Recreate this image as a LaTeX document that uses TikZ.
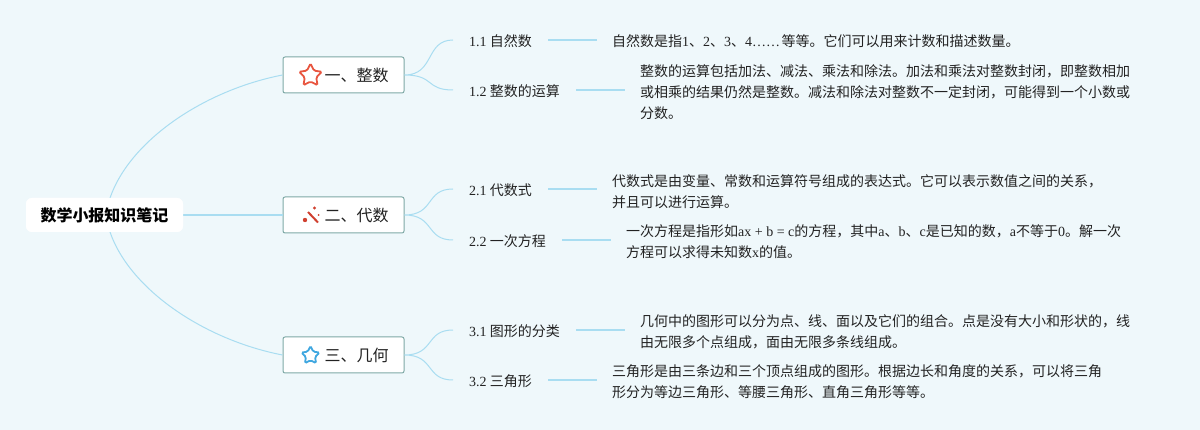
\documentclass[tikz,border=0pt]{standalone}
\usepackage{fontspec}
\setmainfont{Noto Sans CJK SC}
\newfontfamily\lat{Liberation Serif}
\usetikzlibrary{shapes.geometric}
\definecolor{paper}{HTML}{EFF8FB}
\definecolor{link}{HTML}{A9DDF1}
\definecolor{boxline}{HTML}{7FA9A6}
\definecolor{ink}{HTML}{222222}
\definecolor{starred}{HTML}{E8553F}
\definecolor{starblue}{HTML}{3FA7E0}
\definecolor{wandred}{HTML}{D0402F}
\tikzset{
  root/.style={fill=white,rounded corners=6pt,minimum width=157pt,minimum height=34pt,inner sep=0pt,font=\fontsize{16}{20}\selectfont\bfseries,text=black},
  branch/.style={draw=boxline,fill=white,line width=1pt,rounded corners=2pt,minimum width=121pt,minimum height=36pt,inner sep=0pt,font=\fontsize{16}{20}\selectfont,text=ink},
  topic/.style={anchor=west,inner xsep=16pt,inner ysep=2pt,text height=13.2pt,text depth=1pt,font=\fontsize{14}{18}\selectfont,text=ink},
  detail/.style={anchor=west,align=left,inner xsep=15pt,inner ysep=0pt,font=\fontsize{14}{21}\selectfont,text=ink},
  wire/.style={draw=link,line width=1pt},
  stub/.style={draw=link,line width=1.4pt},
  staricon/.style={star,star points=5,star point ratio=2.0,minimum size=#1,inner sep=0pt,line width=1.8pt,rounded corners=1.5pt}
}
\begin{document}
\begin{tikzpicture}[x=1pt,y=-1pt]
\useasboundingbox[fill=paper] (0,0) rectangle (1200,430);
\coordinate (Rt) at (110,198);
\coordinate (Rb) at (110,232);
% links from the root go first
\node[root] (R) at (104.5,215) {数学小报知识笔记};
\node[branch] (B1) at (343.5,75) {\hspace{26pt}一、整数};
\node[branch] (B2) at (343.5,215) {\hspace{26pt}二、代数};
\node[branch] (B3) at (343.5,355) {\hspace{26pt}三、几何};
\path[wire]
  (Rt) .. controls (130,140) and (205,90) .. (B1.west)
  (Rb) .. controls (130,290) and (205,340) .. (B3.west);
\draw[stub] (R) -- (B2);
\node[root] at (R) {数学小报知识笔记};
% level two
\node[topic] (T11) at (453,40) {{\lat 1.1} 自然数};
\node[topic] (T12) at (453,90) {{\lat 1.2} 整数的运算};
\node[topic] (T21) at (453,189) {{\lat 2.1} 代数式};
\node[topic] (T22) at (453,240) {{\lat 2.2} 一次方程};
\node[topic] (T31) at (453,330) {{\lat 3.1} 图形的分类};
\node[topic] (T32) at (453,380) {{\lat 3.2} 三角形};
% level three
\node[detail] (D11) at (597,41) {自然数是指{\lat 1}、{\lat 2}、{\lat 3}、{\lat 4……}\hspace{1.5pt}等等。它们可以用来计数和描述数量。};
\node[detail] (D12) at (625,92) {整数的运算包括加法、减法、乘法和除法。加法和乘法对整数封闭，即整数相加\\或相乘的结果仍然是整数。减法和除法对整数不一定封闭，可能得到一个小数或\\分数。};
\node[detail] (D21) at (597,192) {代数式是由变量、常数和运算符号组成的表达式。它可以表示数值之间的关系，\\并且可以进行运算。};
\node[detail] (D22) at (611,242) {一次方程是指形如{\lat ax + b = c}的方程，其中{\lat a}、{\lat b}、{\lat c}是已知的数，{\lat a}不等于{\lat 0}。解一次\\方程可以求得未知数{\lat x}的值。};
\node[detail] (D31) at (625,332) {几何中的图形可以分为点、线、面以及它们的组合。点是没有大小和形状的，线\\由无限多个点组成，面由无限多条线组成。};
\node[detail] (D32) at (597,382) {三角形是由三条边和三个顶点组成的图形。根据边长和角度的关系，可以将三角\\形分为等边三角形、等腰三角形、直角三角形等等。};
\path[wire]
  (B1.east) .. controls (435,75) and (425,40) .. (T11.west)
  (B1.east) .. controls (435,75) and (425,90) .. (T12.west)
  (B2.east) .. controls (435,215) and (425,189) .. (T21.west)
  (B2.east) .. controls (435,215) and (425,240) .. (T22.west)
  (B3.east) .. controls (435,355) and (425,330) .. (T31.west)
  (B3.east) .. controls (435,355) and (425,380) .. (T32.west);
\draw[stub] (T11) -- (T11-|D11.west);
\draw[stub] (T12) -- (T12-|D12.west);
\draw[stub] (T21) -- (T21-|D21.west);
\draw[stub] (T22) -- (T22-|D22.west);
\draw[stub] (T31) -- (T31-|D31.west);
\draw[stub] (T32) -- (T32-|D32.west);
% icons
\node[staricon=24pt,draw=starred] (S1) at (310.5,75.5) {};
\node[staricon=19pt,draw=starblue] (S3) at (310.5,355.5) {};
\draw[wandred,line width=2pt] (308,212) -- (318,222.5);
\fill[wandred] (314.5,208) circle (1.6pt) (305,220) circle (2.2pt) (318.5,215) circle (1pt);
\end{tikzpicture}
\end{document}
